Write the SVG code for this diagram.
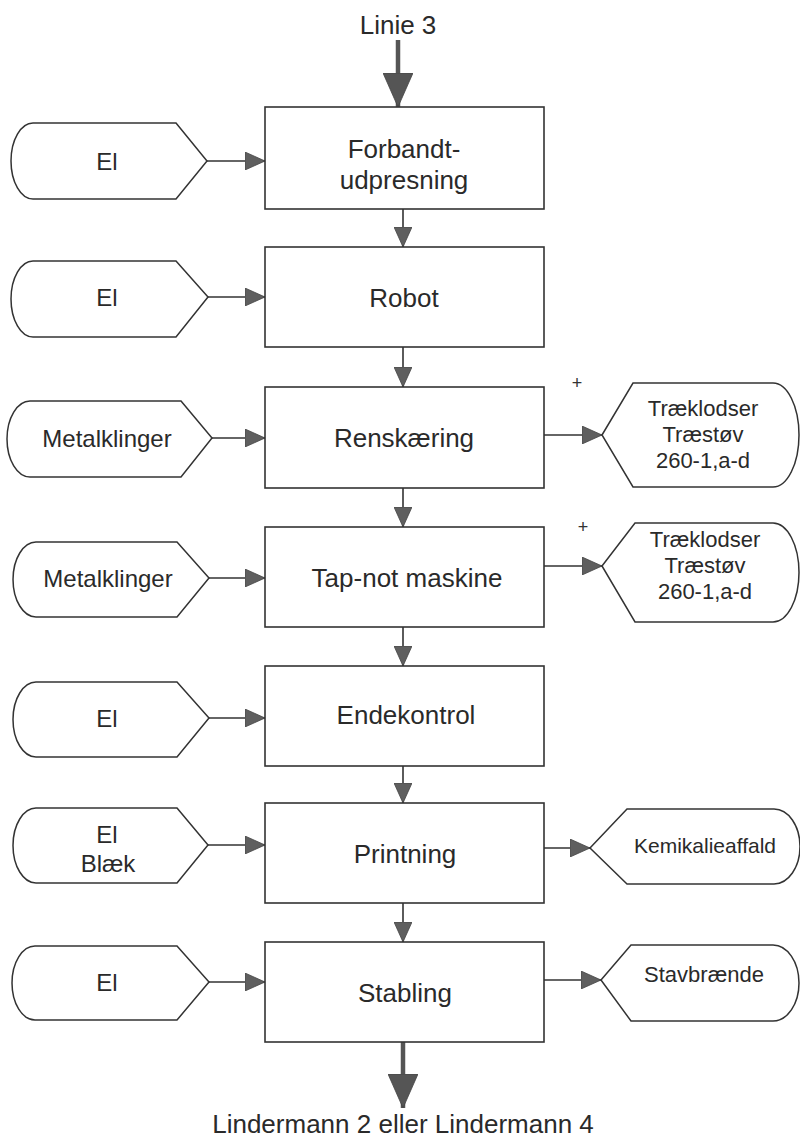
<svg xmlns="http://www.w3.org/2000/svg" width="800" height="1138" viewBox="0 0 800 1138">
  <style>
    .box { fill: #ffffff; stroke: #333333; stroke-width: 1.6; }
    .term { fill: #ffffff; stroke: #333333; stroke-width: 1.5; }
    .edge { fill: none; stroke: #333333; stroke-width: 1.6; }
    .flow { fill: none; stroke: #555555; stroke-width: 4.5; }
    text { font-family: "Liberation Sans", Arial, sans-serif; fill: #2a2a2a; text-anchor: middle; }
    .main { font-size: 26px; }
    .in { font-size: 24px; }
    .out { font-size: 22px; }
    .plus { font-size: 18px; fill: #333333; }
  </style>
  <defs>
    <marker id="arr" markerUnits="userSpaceOnUse" markerWidth="20" markerHeight="18" refX="20" refY="9" orient="auto">
      <path d="M0,0 L20,9 L0,18 Z" fill="#5f5f5f" stroke="#444444" stroke-width="0.8"/>
    </marker>
    <marker id="big" markerUnits="userSpaceOnUse" markerWidth="34" markerHeight="30" refX="34" refY="15" orient="auto">
      <path d="M0,0 L34,15 L0,30 Z" fill="#555555" stroke="#444444" stroke-width="0.8"/>
    </marker>
  </defs>

  <!-- flow in / flow out labels -->
  <text class="main" x="398" y="34">Linie 3</text>
  <text class="main" x="403" y="1133">Lindermann 2 eller Lindermann 4</text>

  <g id="connectors">
    <!-- main line in and out -->
    <line class="flow" x1="398" y1="40" x2="398" y2="107" marker-end="url(#big)"/>
    <line class="flow" x1="403" y1="1042" x2="403" y2="1108" marker-end="url(#big)"/>
    <!-- process chain -->
    <line class="edge" x1="403" y1="209" x2="403" y2="247" marker-end="url(#arr)"/>
    <line class="edge" x1="403" y1="347" x2="403" y2="387" marker-end="url(#arr)"/>
    <line class="edge" x1="403" y1="488" x2="403" y2="527" marker-end="url(#arr)"/>
    <line class="edge" x1="403" y1="627" x2="403" y2="666" marker-end="url(#arr)"/>
    <line class="edge" x1="403" y1="766" x2="403" y2="803" marker-end="url(#arr)"/>
    <line class="edge" x1="403" y1="903" x2="403" y2="942" marker-end="url(#arr)"/>
    <!-- inputs -->
    <line class="edge" x1="207" y1="161" x2="265" y2="161" marker-end="url(#arr)"/>
    <line class="edge" x1="208" y1="297" x2="265" y2="297" marker-end="url(#arr)"/>
    <line class="edge" x1="212" y1="438" x2="265" y2="438" marker-end="url(#arr)"/>
    <line class="edge" x1="209" y1="578" x2="265" y2="578" marker-end="url(#arr)"/>
    <line class="edge" x1="209" y1="718" x2="265" y2="718" marker-end="url(#arr)"/>
    <line class="edge" x1="208" y1="845" x2="265" y2="845" marker-end="url(#arr)"/>
    <line class="edge" x1="209" y1="982" x2="265" y2="982" marker-end="url(#arr)"/>
    <!-- outputs -->
    <line class="edge" x1="544" y1="435" x2="602" y2="435" marker-end="url(#arr)"/>
    <line class="edge" x1="544" y1="566" x2="602" y2="566" marker-end="url(#arr)"/>
    <line class="edge" x1="544" y1="848" x2="590" y2="848" marker-end="url(#arr)"/>
    <line class="edge" x1="544" y1="980" x2="601" y2="980" marker-end="url(#arr)"/>
  </g>

  <!-- process steps -->
  <g id="forbandt">
    <rect class="box" x="265" y="107" width="279" height="102"/>
    <text class="main" x="404" y="158">Forbandt-</text>
    <text class="main" x="404" y="189">udpresning</text>
  </g>
  <g id="robot">
    <rect class="box" x="265" y="247" width="279" height="100"/>
    <text class="main" x="404" y="307">Robot</text>
  </g>
  <g id="renskaering">
    <rect class="box" x="265" y="387" width="279" height="101"/>
    <text class="main" x="404" y="447">Renskæring</text>
  </g>
  <g id="tapnot">
    <rect class="box" x="265" y="527" width="279" height="100"/>
    <text class="main" x="407" y="587">Tap-not maskine</text>
  </g>
  <g id="endekontrol">
    <rect class="box" x="265" y="666" width="279" height="100"/>
    <text class="main" x="406" y="724">Endekontrol</text>
  </g>
  <g id="printning">
    <rect class="box" x="265" y="803" width="279" height="100"/>
    <text class="main" x="405" y="863">Printning</text>
  </g>
  <g id="stabling">
    <rect class="box" x="265" y="942" width="279" height="100"/>
    <text class="main" x="405" y="1002">Stabling</text>
  </g>

  <!-- inputs -->
  <g id="in-el-1">
    <path class="term" d="M176,123 L207,161 L176,199 L33,199 A22,38 0 0 1 33,123 Z"/>
    <text class="in" x="107" y="170">El</text>
  </g>
  <g id="in-el-2">
    <path class="term" d="M176,261 L208,297 L176,337 L33,337 A22,38 0 0 1 33,261 Z"/>
    <text class="in" x="107" y="306">El</text>
  </g>
  <g id="in-metal-1">
    <path class="term" d="M181,401 L212,438 L181,477 L30,477 A23,38 0 0 1 30,401 Z"/>
    <text class="in" x="107" y="447">Metalklinger</text>
  </g>
  <g id="in-metal-2">
    <path class="term" d="M177,542 L209,578 L177,617 L36,617 A23,37.5 0 0 1 36,542 Z"/>
    <text class="in" x="108" y="587">Metalklinger</text>
  </g>
  <g id="in-el-3">
    <path class="term" d="M177,682 L209,718 L177,757 L36,757 A23,37.5 0 0 1 36,682 Z"/>
    <text class="in" x="107" y="727">El</text>
  </g>
  <g id="in-el-blaek">
    <path class="term" d="M177,808 L208,845 L177,883 L36,883 A23,37.5 0 0 1 36,808 Z"/>
    <text class="in" x="107" y="843">El</text>
    <text class="in" x="108" y="872">Blæk</text>
  </g>
  <g id="in-el-4">
    <path class="term" d="M177,946 L209,982 L177,1020 L35,1020 A23,37 0 0 1 35,946 Z"/>
    <text class="in" x="107" y="991">El</text>
  </g>

  <!-- outputs -->
  <g id="out-trae-1">
    <path class="term" d="M602,435 L633,383 L773,383 A26,52 0 0 1 773,487 L633,487 Z"/>
    <text class="plus" x="577" y="389">+</text>
    <text class="out" x="703" y="416">Træklodser</text>
    <text class="out" x="703" y="442">Træstøv</text>
    <text class="out" x="703" y="468">260-1,a-d</text>
  </g>
  <g id="out-trae-2">
    <path class="term" d="M602,566 L635,523 L773,523 A26,49.5 0 0 1 773,622 L635,622 Z"/>
    <text class="plus" x="583" y="533">+</text>
    <text class="out" x="705" y="547">Træklodser</text>
    <text class="out" x="705" y="573">Træstøv</text>
    <text class="out" x="705" y="599">260-1,a-d</text>
  </g>
  <g id="out-kemikalie">
    <path class="term" d="M590,848 L627,809 L774,809 A26,37.5 0 0 1 774,884 L627,884 Z"/>
    <text class="out" x="705" y="853" style="font-size:21px">Kemikalieaffald</text>
  </g>
  <g id="out-stav">
    <path class="term" d="M601,980 L631,945 L773,945 A26,38 0 0 1 773,1021 L631,1021 Z"/>
    <text class="out" x="704" y="982">Stavbrænde</text>
  </g>
</svg>
